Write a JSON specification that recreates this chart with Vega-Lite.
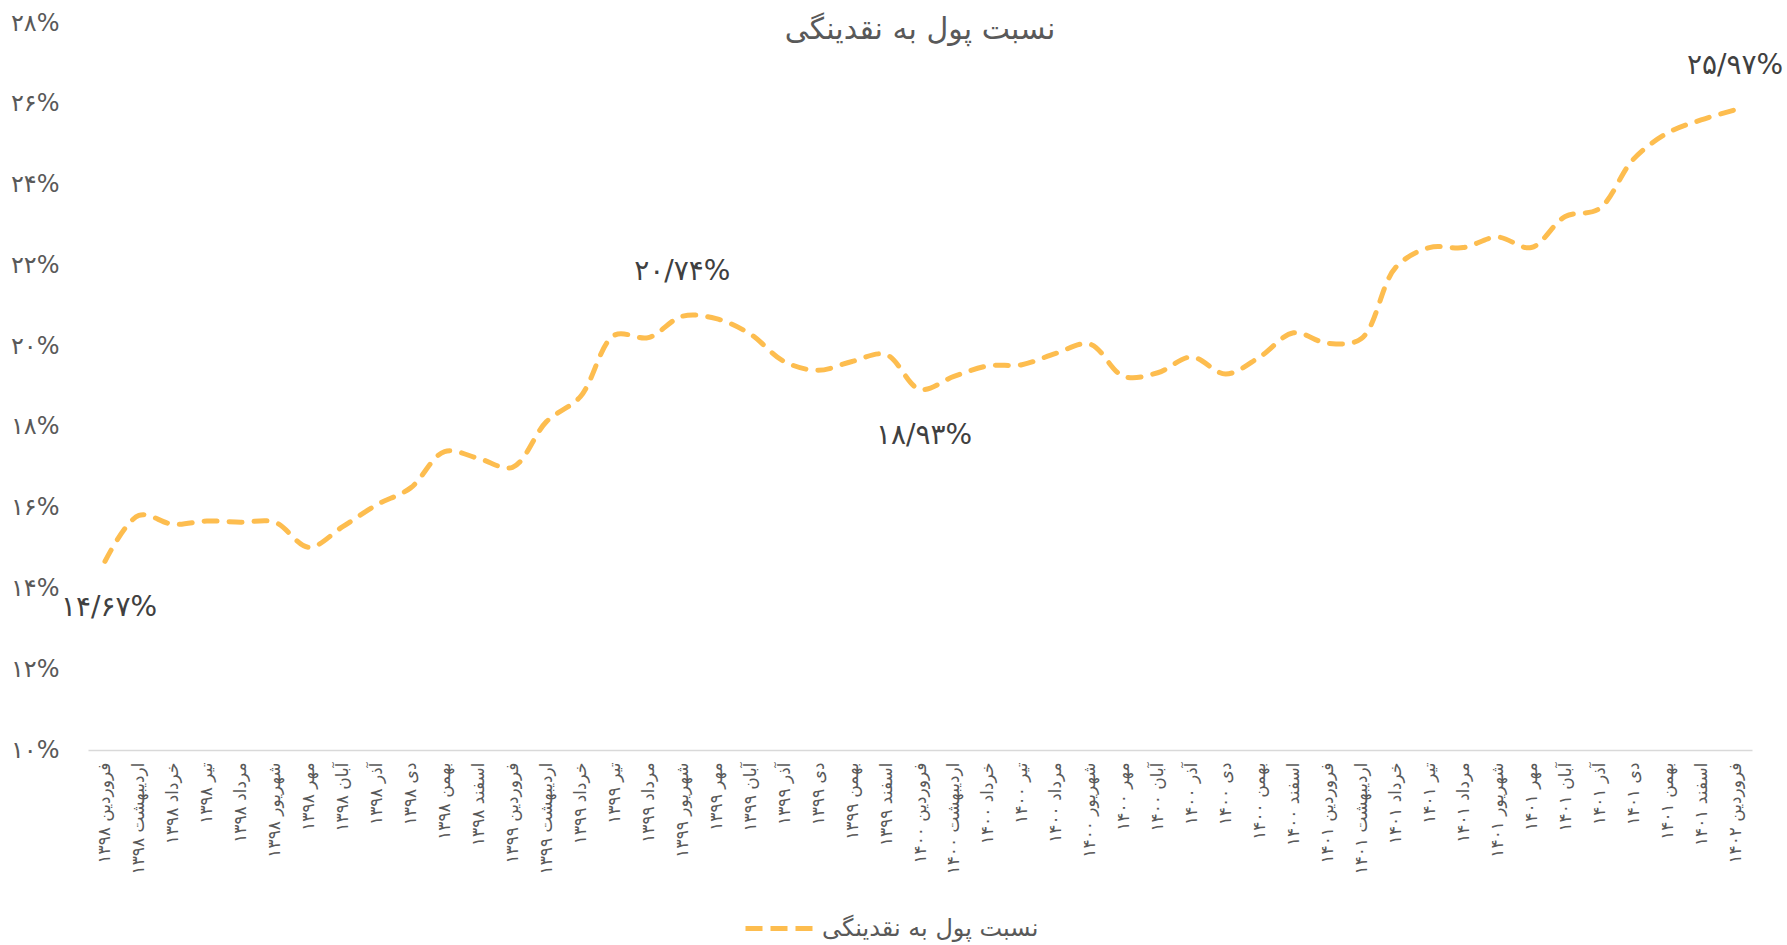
{
  "$schema": "https://vega.github.io/schema/vega-lite/v6.json",
  "autosize": {"type": "none"},
  "width": 1664,
  "height": 727,
  "padding": {"left": 88, "top": 23, "right": 35, "bottom": 195},
  "background": "white",
  "config": {"font": "DejaVu Sans", "view": {"stroke": null}},
  "title": {"text": "نسبت پول به نقدینگی", "fontSize": 30, "fontWeight": "normal", "color": "#595959", "offset": -34, "anchor": "middle"},
  "data": {"values": [
    {"month": "فروردین ۱۳۹۸", "value": 14.67, "label": "۱۴/۶۷%"},
    {"month": "اردیبهشت ۱۳۹۸", "value": 15.81},
    {"month": "خرداد ۱۳۹۸", "value": 15.59},
    {"month": "تیر ۱۳۹۸", "value": 15.67},
    {"month": "مرداد ۱۳۹۸", "value": 15.64},
    {"month": "شهریور ۱۳۹۸", "value": 15.64},
    {"month": "مهر ۱۳۹۸", "value": 15.02},
    {"month": "آبان ۱۳۹۸", "value": 15.53},
    {"month": "آذر ۱۳۹۸", "value": 16.07},
    {"month": "دی ۱۳۹۸", "value": 16.49},
    {"month": "بهمن ۱۳۹۸", "value": 17.39},
    {"month": "اسفند ۱۳۹۸", "value": 17.22},
    {"month": "فروردین ۱۳۹۹", "value": 17.0},
    {"month": "اردیبهشت ۱۳۹۹", "value": 18.13},
    {"month": "خرداد ۱۳۹۹", "value": 18.75},
    {"month": "تیر ۱۳۹۹", "value": 20.27},
    {"month": "مرداد ۱۳۹۹", "value": 20.21},
    {"month": "شهریور ۱۳۹۹", "value": 20.74, "label": "۲۰/۷۴%"},
    {"month": "مهر ۱۳۹۹", "value": 20.68},
    {"month": "آبان ۱۳۹۹", "value": 20.30},
    {"month": "آذر ۱۳۹۹", "value": 19.62},
    {"month": "دی ۱۳۹۹", "value": 19.40},
    {"month": "بهمن ۱۳۹۹", "value": 19.62},
    {"month": "اسفند ۱۳۹۹", "value": 19.79},
    {"month": "فروردین ۱۴۰۰", "value": 18.93, "label": "۱۸/۹۳%"},
    {"month": "اردیبهشت ۱۴۰۰", "value": 19.25},
    {"month": "خرداد ۱۴۰۰", "value": 19.51},
    {"month": "تیر ۱۴۰۰", "value": 19.54},
    {"month": "مرداد ۱۴۰۰", "value": 19.82},
    {"month": "شهریور ۱۴۰۰", "value": 20.05},
    {"month": "مهر ۱۴۰۰", "value": 19.25},
    {"month": "آبان ۱۴۰۰", "value": 19.34},
    {"month": "آذر ۱۴۰۰", "value": 19.73},
    {"month": "دی ۱۴۰۰", "value": 19.31},
    {"month": "بهمن ۱۴۰۰", "value": 19.73},
    {"month": "اسفند ۱۴۰۰", "value": 20.33},
    {"month": "فروردین ۱۴۰۱", "value": 20.07},
    {"month": "اردیبهشت ۱۴۰۱", "value": 20.19},
    {"month": "خرداد ۱۴۰۱", "value": 21.94},
    {"month": "تیر ۱۴۰۱", "value": 22.44},
    {"month": "مرداد ۱۴۰۱", "value": 22.44},
    {"month": "شهریور ۱۴۰۱", "value": 22.70},
    {"month": "مهر ۱۴۰۱", "value": 22.44},
    {"month": "آبان ۱۴۰۱", "value": 23.21},
    {"month": "آذر ۱۴۰۱", "value": 23.40},
    {"month": "دی ۱۴۰۱", "value": 24.62},
    {"month": "بهمن ۱۴۰۱", "value": 25.27},
    {"month": "اسفند ۱۴۰۱", "value": 25.60},
    {"month": "فروردین ۱۴۰۲", "value": 25.85, "label": "۲۵/۹۷%"}
  ]},
  "encoding": {
    "x": {
      "field": "month", "type": "ordinal", "sort": null,
      "scale": {"type": "point", "padding": 0.5},
      "axis": {"title": null, "labelAngle": -90, "labelFontSize": 17, "labelColor": "#595959", "ticks": false, "domainColor": "#D9D9D9", "domainWidth": 1.5, "labelPadding": 12, "grid": false, "labelLimit": 300}
    },
    "y": {
      "field": "value", "type": "quantitative",
      "scale": {"domain": [10, 28], "nice": false, "zero": false},
      "axis": {"title": null, "values": [10, 12, 14, 16, 18, 20, 22, 24, 26, 28], "labelExpr": "['۱۰%','۱۲%','۱۴%','۱۶%','۱۸%','۲۰%','۲۲%','۲۴%','۲۶%','۲۸%'][round((datum.value-10)/2)]", "labelFontSize": 24, "labelColor": "#595959", "ticks": false, "tickSize": 0, "domain": false, "grid": false, "labelPadding": 29}
    }
  },
  "layer": [
    {
      "mark": {"type": "line", "interpolate": "catmull-rom", "strokeWidth": 5, "strokeDash": [13, 12], "strokeCap": "round"},
      "encoding": {
        "color": {
          "datum": "نسبت پول به نقدینگی",
          "scale": {"range": ["#FDBD4F"]},
          "legend": {"title": null, "orient": "none", "legendX": 655, "legendY": 868, "symbolType": "stroke", "symbolSize": 4900, "symbolStrokeWidth": 5, "symbolDash": [17, 8], "labelFontSize": 24, "labelColor": "#595959", "labelLimit": 400}
        }
      }
    },
    {
      "transform": [{"filter": "datum.label && datum.value > 20"}],
      "mark": {"type": "text", "dy": -44, "fontSize": 28, "color": "#404040"},
      "encoding": {"text": {"field": "label"}}
    },
    {
      "transform": [{"filter": "datum.label && datum.value <= 20"}],
      "mark": {"type": "text", "dy": 47, "dx": 4, "fontSize": 28, "color": "#404040"},
      "encoding": {"text": {"field": "label"}}
    }
  ]
}
